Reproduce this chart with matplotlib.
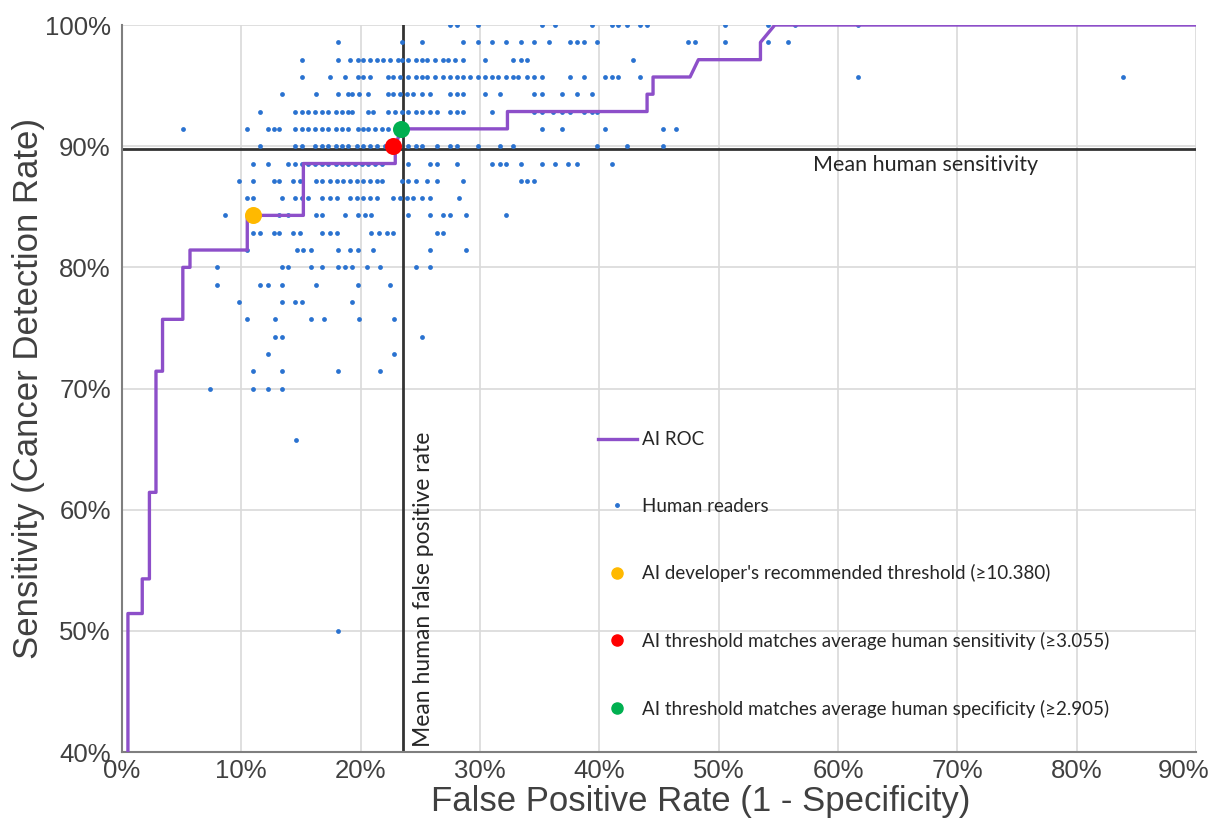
import matplotlib
matplotlib.use("Agg")
import matplotlib.pyplot as plt
import matplotlib.transforms as mtransforms
from matplotlib.lines import Line2D

# AI ROC curve (step outline), FPR % vs sensitivity %
roc_fpr = [0.5, 0.5, 1.7, 1.7, 2.3, 2.3, 2.85, 2.85, 3.4, 3.4, 5.1, 5.1, 5.7, 5.7,
           10.5, 10.5, 15.2, 15.2, 22.9, 22.9, 23.4, 32.3, 32.3, 44.0, 44.0, 44.5,
           44.5, 47.6, 48.3, 53.5, 53.5, 54.7, 90.0]
roc_sens = [40.0, 51.43, 51.43, 54.29, 54.29, 61.43, 61.43, 71.43, 71.43, 75.71, 75.71,
            80.0, 80.0, 81.43, 81.43, 84.29, 84.29, 88.57, 88.57, 90.0, 91.43, 91.43,
            92.86, 92.86, 94.29, 94.29, 95.71, 95.71, 97.14, 97.14, 98.57, 100.0, 100.0]

# highlighted thresholds
developer_pt = (11.0, 84.29)
sens_match_pt = (22.7, 90.0)
spec_match_pt = (23.4, 91.43)

mean_human_fpr = 23.55
mean_human_sens = 89.8

# human readers, one list of FPR values per sensitivity level
readers_100 = [27.5, 28.1, 29.8, 35.2, 36.3, 39.4, 41.1, 41.6, 42.3, 43.4, 44.0, 50.5, 54.1, 56.4, 61.7]
readers_9857 = [18.1, 23.5, 25.1, 28.6, 29.8, 31.0, 32.2, 33.4, 34.5, 35.8, 37.5, 38.1, 38.7, 39.8,
                47.4, 48.0, 50.5, 54.1, 55.8]
readers_9714 = [15.1, 18.1, 19.1, 19.8, 20.2, 20.8, 21.4, 21.9, 22.5, 23.1, 23.5, 24.0, 24.6, 25.1,
                25.6, 26.2, 26.9, 27.3, 27.9, 28.6, 30.4, 32.8, 33.4, 33.9, 42.8]
readers_9571 = [15.1, 17.4, 18.7, 19.8, 20.2, 20.8, 22.3, 22.7, 23.3, 24.0, 24.6, 25.1, 25.6, 26.2,
                26.9, 27.5, 28.1, 28.6, 29.2, 29.8, 30.4, 31.0, 31.5, 32.2, 32.8, 33.2, 33.9, 34.5,
                35.2, 37.5, 38.7, 40.5, 41.1, 41.6, 43.4, 61.7, 83.9]
readers_9429 = [13.4, 16.3, 18.1, 18.9, 19.3, 19.9, 20.6, 22.3, 22.7, 23.3, 23.9, 24.4, 25.1, 25.8,
                27.5, 28.1, 28.6, 30.4, 31.7, 34.5, 35.2, 36.9, 38.1, 39.4]
readers_9286 = [11.6, 14.5, 15.1, 15.6, 16.2, 16.8, 17.3, 17.9, 18.4, 18.9, 19.3, 20.6, 21.0, 22.3,
                22.9, 23.5, 24.0, 24.6, 25.1, 25.8, 26.4, 27.5, 28.1, 28.6, 31.0, 34.5, 35.2, 36.1,
                36.9, 37.5, 38.7, 39.4, 39.8]
readers_9143 = [5.1, 10.5, 12.2, 12.7, 13.2, 14.5, 15.1, 15.6, 16.2, 16.8, 17.3, 17.9, 18.4, 18.9,
                19.8, 20.2, 20.6, 21.2, 21.8, 22.3, 35.2, 36.9, 40.5, 45.3, 46.4]
readers_9000 = [11.6, 14.5, 15.1, 16.2, 16.8, 17.3, 17.9, 18.4, 18.9, 19.7, 20.2, 20.8, 21.4, 22.0,
                24.0, 24.6, 25.1, 26.4, 27.5, 28.1, 29.8, 31.7, 32.8, 39.8, 42.3, 45.3]
readers_8857 = [11.0, 12.2, 13.9, 14.5, 15.1, 15.6, 16.2, 16.8, 17.3, 17.9, 18.4, 18.9, 19.5, 20.1,
                20.6, 21.2, 21.8, 24.0, 25.8, 26.4, 28.1, 31.0, 31.7, 32.2, 33.4, 35.2, 36.3, 37.4,
                38.1, 41.1]
readers_8714 = [9.8, 11.0, 12.7, 13.2, 14.3, 14.9, 16.3, 16.8, 17.4, 18.0, 18.5, 19.1, 19.7, 20.2,
                20.8, 21.4, 21.8, 23.5, 24.0, 24.6, 25.6, 26.4, 28.6, 33.4, 33.9, 34.5]
readers_8571 = [10.5, 11.0, 13.4, 14.5, 15.1, 15.6, 16.8, 17.4, 18.0, 19.1, 19.7, 20.2, 20.8, 21.4,
                22.7, 23.3, 23.9, 24.4, 25.1, 25.8, 28.2]
readers_8429 = [8.6, 13.2, 13.9, 16.3, 16.8, 18.7, 19.8, 20.4, 20.9, 24.0, 25.8, 26.9, 27.5, 28.8, 32.2]
readers_8286 = [11.0, 11.6, 12.7, 13.2, 14.3, 14.9, 16.8, 17.4, 18.0, 20.9, 21.5, 22.2, 22.7, 26.4, 26.9]
readers_8143 = [10.5, 14.7, 15.2, 15.8, 18.1, 19.1, 19.8, 21.0, 25.8, 28.8]
readers_8000 = [8.0, 13.4, 13.9, 15.8, 16.8, 18.1, 18.7, 19.3, 20.5, 21.6, 24.6, 25.8]
readers_7857 = [8.0, 11.6, 12.2, 13.4, 16.3, 19.8, 22.5]
readers_7714 = [9.8, 13.4, 14.5, 15.1, 19.3]
readers_7571 = [10.5, 12.8, 15.8, 16.9, 19.9, 22.8]
readers_7429 = [12.8, 13.4, 25.1]
readers_7286 = [12.2, 22.8]
readers_7143 = [11.0, 13.4, 18.1, 21.6]
readers_7000 = [7.4, 11.0, 12.2, 13.4]
readers_6571 = [14.6]
readers_5000 = [18.1]

reader_rows = [
    (100.0, readers_100), (98.57, readers_9857), (97.14, readers_9714), (95.71, readers_9571),
    (94.29, readers_9429), (92.86, readers_9286), (91.43, readers_9143), (90.0, readers_9000),
    (88.57, readers_8857), (87.14, readers_8714), (85.71, readers_8571), (84.29, readers_8429),
    (82.86, readers_8286), (81.43, readers_8143), (80.0, readers_8000), (78.57, readers_7857),
    (77.14, readers_7714), (75.71, readers_7571), (74.29, readers_7429), (72.86, readers_7286),
    (71.43, readers_7143), (70.0, readers_7000), (65.71, readers_6571), (50.0, readers_5000),
]

reader_x = [x for s, xs in reader_rows for x in xs]
reader_y = [s for s, xs in reader_rows for x in xs]

legend_font = ["Lato", "DejaVu Sans"]
gray = "#404040"

fig = plt.figure(figsize=(12.16, 8.34), dpi=100)
ax = fig.add_axes([0.1003, 0.0983, 0.8833, 0.8717])

ax.set_xlim(0, 90)
ax.set_ylim(40, 100)
ax.set_xticks(range(0, 91, 10))
ax.set_yticks(range(40, 101, 10))
ax.set_xticklabels([f"{v}%" for v in range(0, 91, 10)])
ax.set_yticklabels([f"{v}%" for v in range(40, 101, 10)])
ax.grid(True, color="#d9d9d9", linewidth=1.2)
ax.set_axisbelow(True)
for side in ["top", "right"]:
    ax.spines[side].set_visible(False)
for side in ["left", "bottom"]:
    ax.spines[side].set_color("#7f7f7f")
    ax.spines[side].set_linewidth(1.5)
ax.tick_params(length=0, labelsize=18.5, colors=gray)
ax.tick_params(axis="y", pad=8)
ax.tick_params(axis="x", pad=5)
for lbl in ax.get_xticklabels() + ax.get_yticklabels():
    lbl.set_family("Liberation Sans")
# keep the last x label inside the figure
last = ax.get_xticklabels()[-1]
last.set_transform(last.get_transform() + mtransforms.ScaledTranslation(-9 / 72, 0, fig.dpi_scale_trans))

# mean human lines
ax.axhline(mean_human_sens, color="#333333", linewidth=2.0, zorder=2)
ax.axvline(mean_human_fpr, color="#333333", linewidth=2.0, zorder=2)

ax.scatter(reader_x, reader_y, s=12, color="#2a72d0", zorder=3, linewidths=0)
ax.plot(roc_fpr, roc_sens, color="#8d4fc9", linewidth=2.4, zorder=4)

ax.scatter(*developer_pt, s=150, color="#ffb900", zorder=5, linewidths=0)
ax.scatter(*sens_match_pt, s=150, color="#ff0000", zorder=5, linewidths=0)
ax.scatter(*spec_match_pt, s=150, color="#00b050", zorder=5, linewidths=0)

ax.text(67.3, 89.3, "Mean human sensitivity", fontsize=15.5, color="#262626",
        family=legend_font, ha="center", va="top")
ax.text(25.3, 40.4, "Mean human false positive rate", fontsize=16.5, color="#262626",
        family=legend_font, ha="center", va="bottom", rotation=90)

ax.set_xlabel("False Positive Rate (1 - Specificity)", fontsize=25, color=gray,
              family="Liberation Sans")
ax.xaxis.set_label_coords(0.539, -0.045)
ax.set_ylabel("Sensitivity (Cancer Detection Rate)", fontsize=25, color=gray,
              family="Liberation Sans", labelpad=0)

handles = [
    Line2D([], [], color="#8d4fc9", linewidth=2.4),
    Line2D([], [], linestyle="", marker="o", markersize=2.5, color="#2a72d0"),
    Line2D([], [], linestyle="", marker="o", markersize=8, color="#ffb900"),
    Line2D([], [], linestyle="", marker="o", markersize=8, color="#ff0000"),
    Line2D([], [], linestyle="", marker="o", markersize=8, color="#00b050"),
]
labels = [
    "AI ROC",
    "Human readers",
    "AI developer's recommended threshold (\u226510.380)",
    "AI threshold matches average human sensitivity (\u22653.055)",
    "AI threshold matches average human specificity (\u22652.905)",
]
ax.legend(handles, labels, loc="upper left", bbox_to_anchor=(0.443, 0.441),
          frameon=False, borderpad=0, borderaxespad=0, handlelength=2.1,
          handletextpad=0.25, labelspacing=2.64,
          prop={"family": legend_font, "size": 13.5}, labelcolor="#262626")

fig.savefig("out.png", dpi=100)
